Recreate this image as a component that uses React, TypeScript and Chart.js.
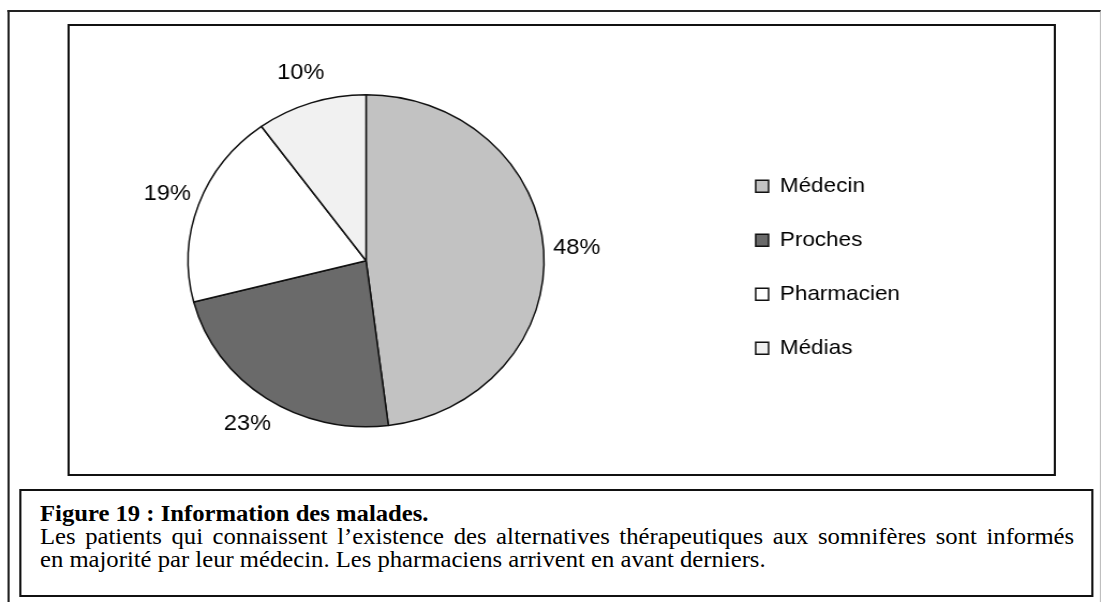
import React, { useEffect, useRef } from "react";
import { Chart, registerables } from "chart.js";

Chart.register(...registerables);

const categories = ["Médecin", "Proches", "Pharmacien", "Médias"];
const values = [48, 23, 19, 10];
const sliceColors = ["#c2c2c2", "#6a6a6a", "#ffffff", "#f1f1f1"];
const captionTitle = "Figure 19 : Information des malades.";
const captionLine1 =
  "Les patients qui connaissent l’existence des alternatives thérapeutiques aux somnifères sont informés";
const captionLine2 =
  "en majorité par leur médecin. Les pharmaciens arrivent en avant derniers.";

const SX = 1.072; // horizontal stretch of the scanned figure
const SANS = '"Liberation Sans", Arial, sans-serif';
const SERIF = '"Liberation Serif", "Times New Roman", serif';

const pctLabels = {
  id: "pctLabels",
  afterDatasetsDraw(chart: any) {
    const ctx = chart.ctx;
    const meta = chart.getDatasetMeta(0);
    ctx.save();
    ctx.font = `22px ${SANS}`;
    ctx.fillStyle = "#000";
    ctx.textAlign = "center";
    ctx.textBaseline = "middle";
    meta.data.forEach((arc: any, i: number) => {
      const { x, y, startAngle, endAngle, outerRadius } = arc.getProps(
        ["x", "y", "startAngle", "endAngle", "outerRadius"],
        true
      );
      const mid = (startAngle + endAngle) / 2;
      const d = outerRadius + 31;
      ctx.fillText(values[i] + "%", x + Math.cos(mid) * d, y + Math.sin(mid) * d);
    });
    ctx.restore();
  },
};

function PieChart() {
  const ref = useRef<HTMLCanvasElement | null>(null);
  useEffect(() => {
    if (!ref.current) return;
    const chart = new Chart(ref.current, {
      type: "pie",
      data: {
        labels: categories,
        datasets: [
          {
            data: values,
            backgroundColor: sliceColors,
            borderColor: "#111",
            borderWidth: 1.5,
            hoverBorderWidth: 1.5,
            hoverOffset: 0,
            offset: 0,
          },
        ],
      },
      options: {
        responsive: false,
        animation: false,
        layout: { padding: { left: 0, right: 61.5, top: 68, bottom: 46.5 } },
        plugins: {
          tooltip: { enabled: false },
          legend: {
            position: "right",
            align: "center",
            title: {
              display: true,
              text: " ",
              font: { size: 13, lineHeight: 1 },
              padding: 0,
            },
            labels: {
              boxWidth: 12,
              boxHeight: 12,
              padding: 33,
              color: "#000",
              font: { size: 21, family: SANS },
            },
          },
        },
      },
      plugins: [pctLabels],
    } as any);
    return () => chart.destroy();
  }, []);
  return (
    <canvas
      ref={ref}
      width={900}
      height={448}
      style={{ position: "absolute", left: 12 / SX, top: 26 }}
    />
  );
}

export default function App() {
  return (
    <div
      style={{
        position: "fixed",
        left: 0,
        top: 0,
        width: 1104 / SX,
        height: 602,
        overflow: "visible",
        transform: `scaleX(${SX})`,
        transformOrigin: "0 0",
        background: "#fff",
      }}
    >
      <div
        style={{
          position: "absolute",
          left: 6.5,
          top: 10,
          width: 1020.5,
          height: 700,
          boxSizing: "border-box",
          borderTop: "2px solid #222",
          borderLeft: "2px solid #222",
          borderRight: "1px solid #bbb",
        }}
      />
      <div
        style={{
          position: "absolute",
          left: 63.4,
          top: 24,
          width: 921.6,
          height: 452,
          boxSizing: "border-box",
          border: "2px solid #111",
        }}
      />
      <PieChart />
      <div
        style={{
          position: "absolute",
          left: 17.7,
          top: 489,
          width: 1002.8,
          height: 108,
          boxSizing: "border-box",
          border: "2px solid #111",
          padding: "11px 16.5px 0 17.6px",
          fontFamily: SERIF,
          fontSize: 23,
          lineHeight: "23px",
          color: "#000",
          background: "#fff",
        }}
      >
        <div style={{ fontWeight: "bold", whiteSpace: "nowrap" }}>{captionTitle}</div>
        <div style={{ textAlign: "justify", textAlignLast: "justify", whiteSpace: "nowrap" as any }}>
          {captionLine1}
        </div>
        <div style={{ whiteSpace: "nowrap" }}>{captionLine2}</div>
      </div>
    </div>
  );
}
